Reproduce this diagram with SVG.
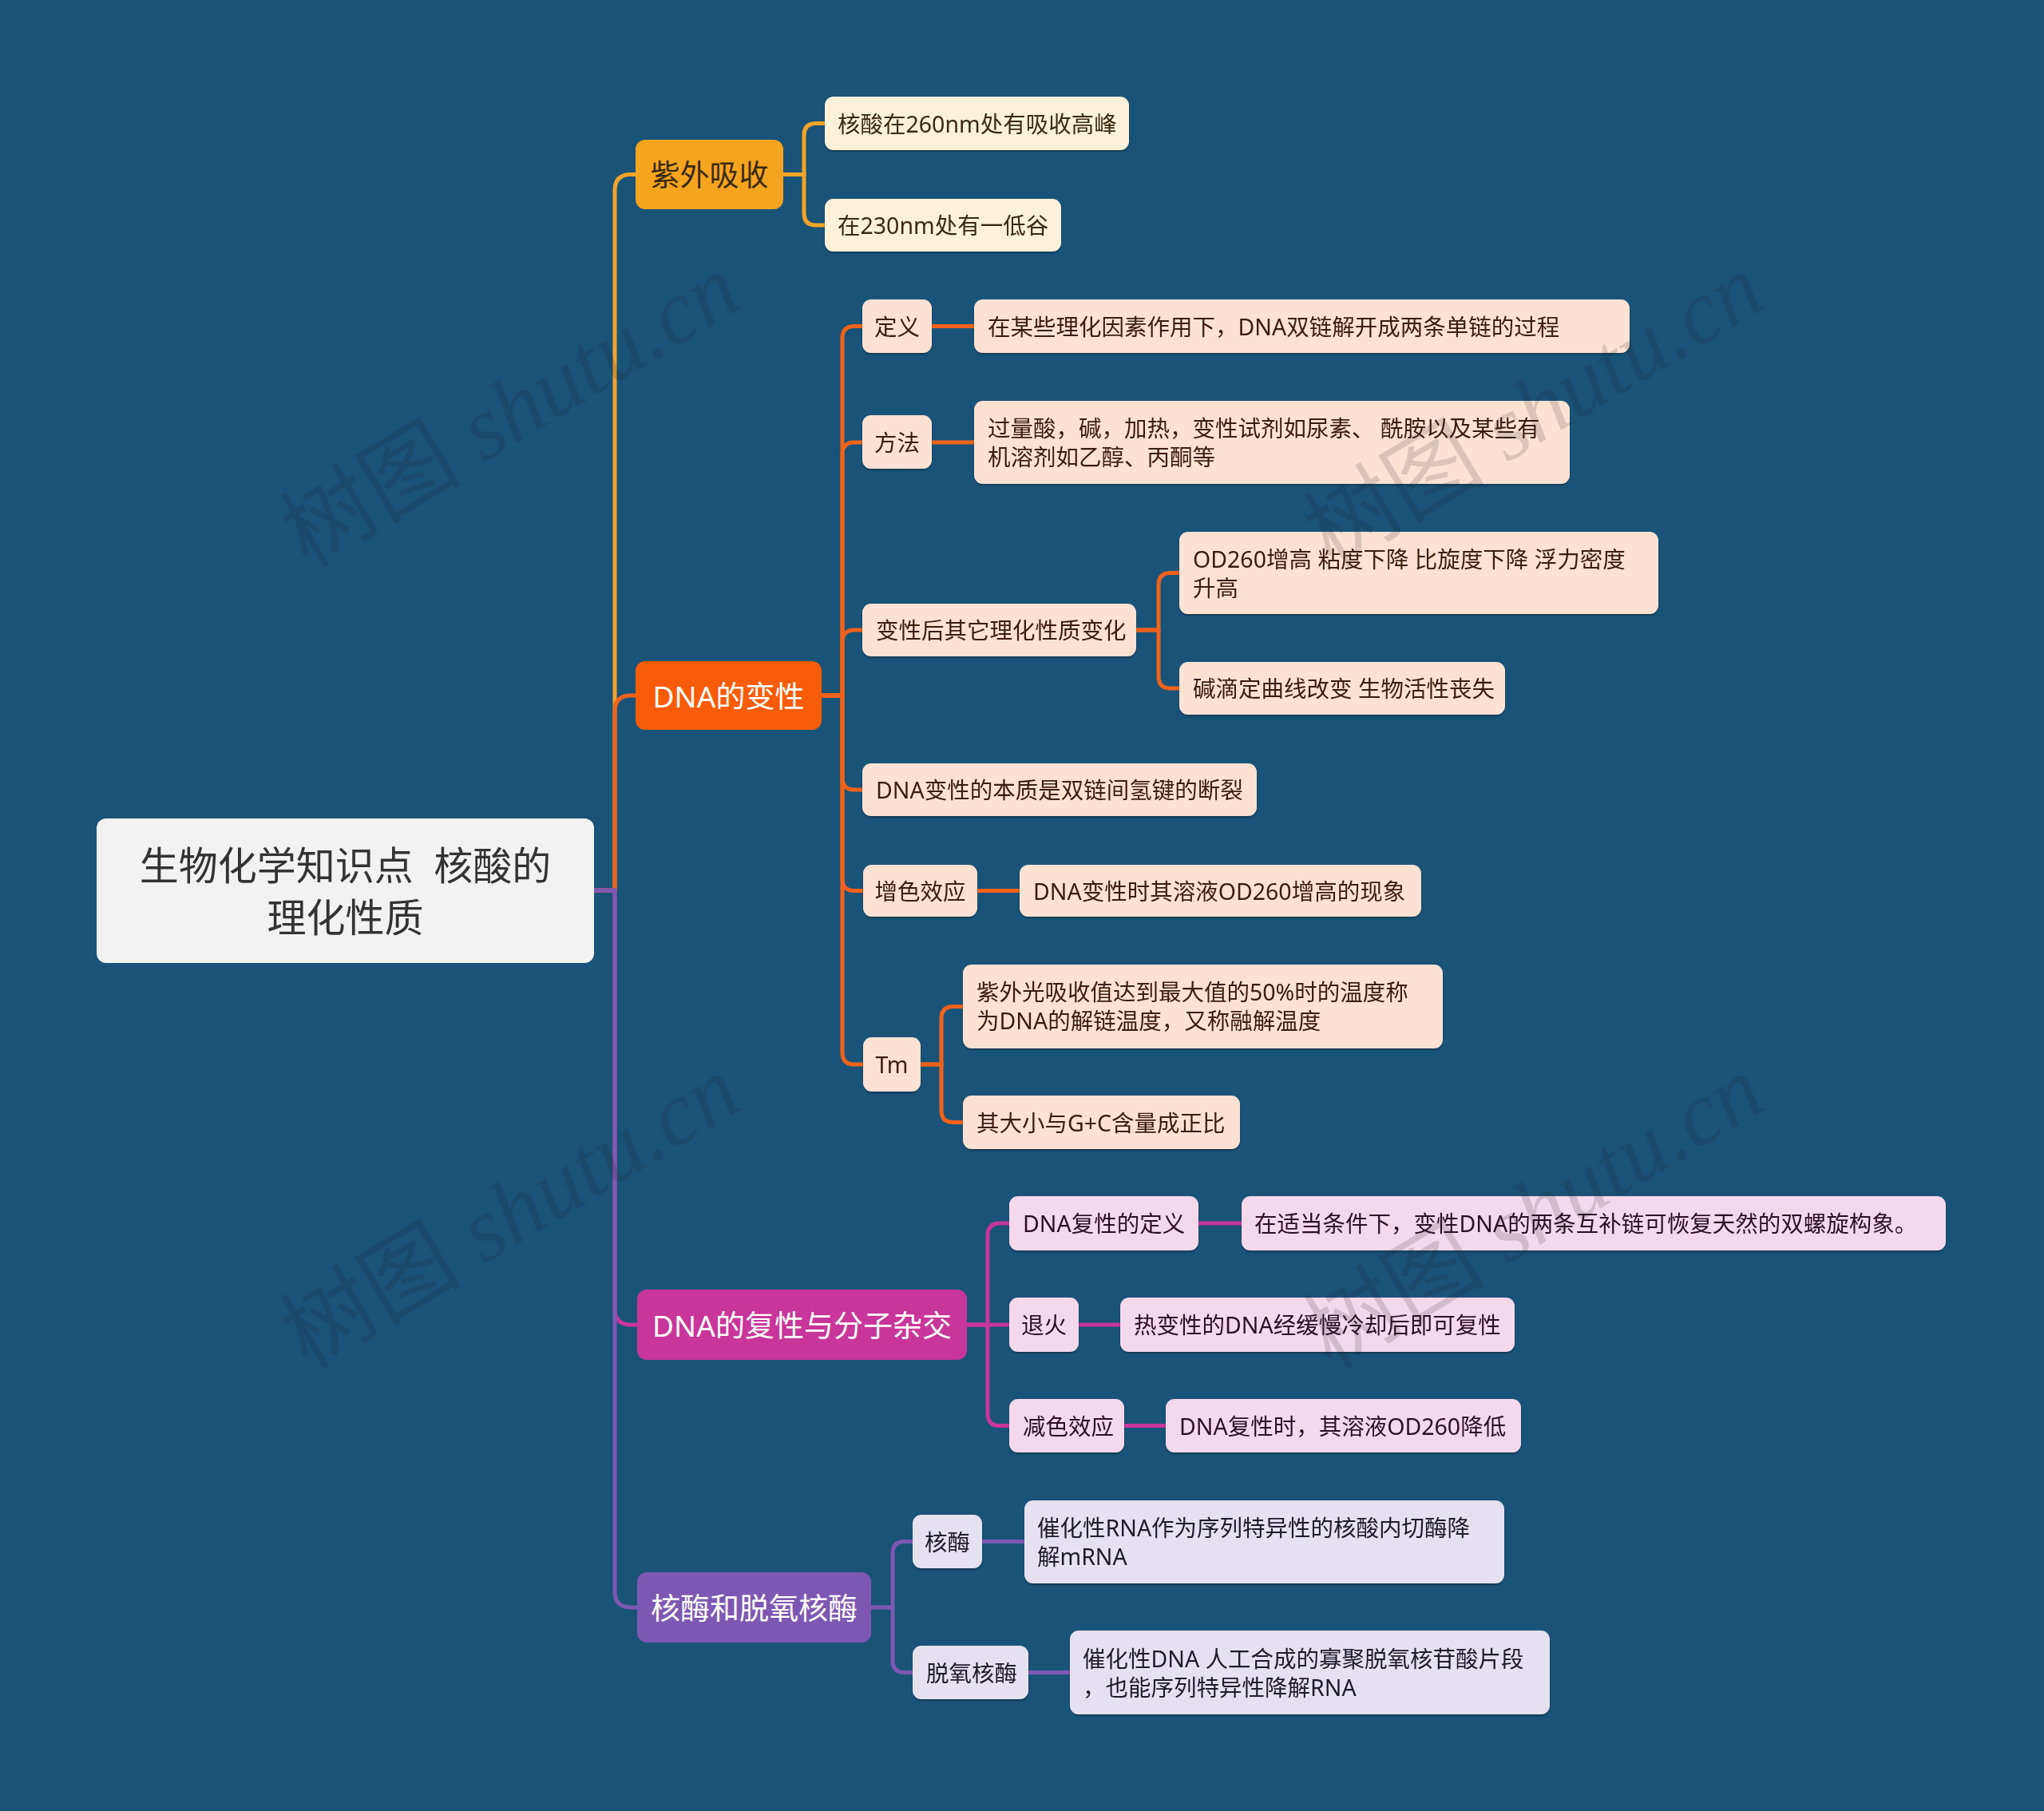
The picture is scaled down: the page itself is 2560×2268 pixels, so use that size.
<svg xmlns="http://www.w3.org/2000/svg" width="2560" height="2268" viewBox="0 0 2560 2268">
<style>
text{font-family:"Noto Sans","Noto Sans CJK SC",sans-serif}
.leaf{font-size:28.5px}
.main{font-size:37px}
.c{text-anchor:middle;dominant-baseline:central}
.l{text-anchor:start;dominant-baseline:central}
.ln{fill:none;stroke-width:5;stroke-linecap:butt}
.y{stroke:#F2A426}.o{stroke:#F0621A}.m{stroke:#C8369A}.p{stroke:#7D58B3}
.ly{fill:#FEF1DA}.lo{fill:#FDE2D3}.lm{fill:#F4D8EC}.lp{fill:#E6E1F0}
.ty{fill:#3B2A10}.to{fill:#3A1A0C}.tm{fill:#2E1027}.tp{fill:#1F1A2B}
.wm{font-family:"Liberation Serif","Noto Sans CJK SC",serif;font-size:114px;font-style:italic;fill:#1a1a1a;fill-opacity:0.15}
</style>
<defs>
<filter id="sh" x="-5%" y="-10%" width="110%" height="130%">
<feDropShadow dx="0" dy="2" stdDeviation="1" flood-color="#000" flood-opacity="0.3"/>
</filter>
</defs>
<rect width="2560" height="2268" fill="#1A5378"/>

<g id="connectors">
<path class="ln y" d="M744 1115 H770 V238.5 Q770 218.5 790 218.5 H796"/>
<path class="ln o" d="M744 1115 H770 V891 Q770 871 790 871 H796"/>
<path class="ln m" d="M744 1115 H770 V1639 Q770 1659 790 1659 H798"/>
<path class="ln p" d="M744 1115 H770 V1993 Q770 2013 790 2013 H798"/>
<path class="ln y" d="M981 218.5 H1007 V169.5 Q1007 154.5 1022 154.5 H1033"/>
<path class="ln y" d="M981 218.5 H1007 V267 Q1007 282 1022 282 H1033"/>
<path class="ln o" d="M1029 871 H1055 V423.5 Q1055 408.5 1070 408.5 H1080"/>
<path class="ln o" d="M1029 871 H1055 V569 Q1055 554 1070 554 H1080"/>
<path class="ln o" d="M1029 871 H1055 V804 Q1055 789 1070 789 H1080"/>
<path class="ln o" d="M1029 871 H1055 V974 Q1055 989 1070 989 H1080"/>
<path class="ln o" d="M1029 871 H1055 V1100.5 Q1055 1115.5 1070 1115.5 H1081"/>
<path class="ln o" d="M1029 871 H1055 V1318 Q1055 1333 1070 1333 H1081"/>
<path class="ln o" d="M1167 408.5 H1220"/>
<path class="ln o" d="M1167 554 H1220"/>
<path class="ln o" d="M1423 789 H1451 V732.5 Q1451 717.5 1466 717.5 H1477"/>
<path class="ln o" d="M1423 789 H1451 V847 Q1451 862 1466 862 H1477"/>
<path class="ln o" d="M1224 1115.5 H1277"/>
<path class="ln o" d="M1153 1333 H1179 V1275.5 Q1179 1260.5 1194 1260.5 H1206"/>
<path class="ln o" d="M1153 1333 H1179 V1390.5 Q1179 1405.5 1194 1405.5 H1206"/>
<path class="ln m" d="M1211 1659 H1237 V1547 Q1237 1532 1252 1532 H1264"/>
<path class="ln m" d="M1211 1659 H1264"/>
<path class="ln m" d="M1211 1659 H1237 V1770.5 Q1237 1785.5 1252 1785.5 H1264"/>
<path class="ln m" d="M1501 1532 H1555"/>
<path class="ln m" d="M1351 1659 H1403"/>
<path class="ln m" d="M1408 1785.5 H1460"/>
<path class="ln p" d="M1091 2013 H1118 V1945.5 Q1118 1930.5 1133 1930.5 H1143"/>
<path class="ln p" d="M1091 2013 H1118 V2079.5 Q1118 2094.5 1133 2094.5 H1143"/>
<path class="ln p" d="M1230 1930.5 H1283"/>
<path class="ln p" d="M1288 2094.5 H1340"/>
</g>

<g id="root">
<rect x="121" y="1025" width="623" height="181" rx="12" fill="#F2F2F2"/>
<text x="432.5" y="1083" class="c" font-size="49" fill="#333" style="white-space:pre">生物化学知识点  核酸的</text>
<text x="432.5" y="1148" class="c" font-size="49" fill="#333">理化性质</text>
</g>

<g id="n-ziwai">
<rect x="796" y="175" width="185" height="87" rx="12" fill="#F5A41F"/>
<text x="888.5" y="218.5" class="c main" fill="#3B2A10">紫外吸收</text>
</g>
<g id="n-ziwai-1" filter="url(#sh)">
<rect x="1033" y="121" width="381" height="67" rx="11" class="ly"/>
<text x="1049" y="154.5" class="l leaf ty">核酸在260nm处有吸收高峰</text>
</g>
<g id="n-ziwai-2" filter="url(#sh)">
<rect x="1033" y="249" width="296" height="66" rx="11" class="ly"/>
<text x="1049" y="282" class="l leaf ty">在230nm处有一低谷</text>
</g>

<g id="n-bianxing">
<rect x="796" y="828" width="233" height="86" rx="12" fill="#F95C08"/>
<text x="912.5" y="871" class="c main" fill="#FFFFFF">DNA的变性</text>
</g>
<g id="n-dingyi" filter="url(#sh)">
<rect x="1080" y="375" width="87" height="67" rx="11" class="lo"/>
<text x="1123.5" y="408.5" class="c leaf to">定义</text>
</g>
<g id="n-dingyi-1" filter="url(#sh)">
<rect x="1220" y="375" width="821" height="67" rx="11" class="lo"/>
<text x="1237" y="408.5" class="l leaf to">在某些理化因素作用下，DNA双链解开成两条单链的过程</text>
</g>
<g id="n-fangfa" filter="url(#sh)">
<rect x="1080" y="520" width="87" height="67" rx="11" class="lo"/>
<text x="1123.5" y="553.5" class="c leaf to">方法</text>
</g>
<g id="n-fangfa-1" filter="url(#sh)">
<rect x="1220" y="502" width="746" height="104" rx="11" class="lo"/>
<text x="1237" y="536" class="l leaf to" style="white-space:pre">过量酸，碱，加热，变性试剂如尿素、 酰胺以及某些有</text>
<text x="1237" y="572" class="l leaf to">机溶剂如乙醇、丙酮等</text>
</g>
<g id="n-bianhua" filter="url(#sh)">
<rect x="1080" y="756" width="343" height="66" rx="11" class="lo"/>
<text x="1097" y="789" class="l leaf to">变性后其它理化性质变化</text>
</g>
<g id="n-bianhua-1" filter="url(#sh)">
<rect x="1477" y="666" width="600" height="103" rx="11" class="lo"/>
<text x="1494" y="699.5" class="l leaf to" style="white-space:pre">OD260增高 粘度下降 比旋度下降 浮力密度</text>
<text x="1494" y="735.5" class="l leaf to">升高</text>
</g>
<g id="n-bianhua-2" filter="url(#sh)">
<rect x="1477" y="829" width="408" height="66" rx="11" class="lo"/>
<text x="1494" y="862" class="l leaf to" style="white-space:pre">碱滴定曲线改变 生物活性丧失</text>
</g>
<g id="n-benzhi" filter="url(#sh)">
<rect x="1080" y="956" width="494" height="66" rx="11" class="lo"/>
<text x="1097" y="989" class="l leaf to">DNA变性的本质是双链间氢键的断裂</text>
</g>
<g id="n-zengse" filter="url(#sh)">
<rect x="1081" y="1083" width="143" height="65" rx="11" class="lo"/>
<text x="1152.5" y="1115.5" class="c leaf to">增色效应</text>
</g>
<g id="n-zengse-1" filter="url(#sh)">
<rect x="1277" y="1083" width="503" height="65" rx="11" class="lo"/>
<text x="1294" y="1115.5" class="l leaf to">DNA变性时其溶液OD260增高的现象</text>
</g>
<g id="n-tm" filter="url(#sh)">
<rect x="1081" y="1299" width="72" height="68" rx="11" class="lo"/>
<text x="1117" y="1333" class="c leaf to">Tm</text>
</g>
<g id="n-tm-1" filter="url(#sh)">
<rect x="1206" y="1208" width="601" height="105" rx="11" class="lo"/>
<text x="1223" y="1242" class="l leaf to">紫外光吸收值达到最大值的50%时的温度称</text>
<text x="1223" y="1278" class="l leaf to">为DNA的解链温度，又称融解温度</text>
</g>
<g id="n-tm-2" filter="url(#sh)">
<rect x="1206" y="1372" width="347" height="67" rx="11" class="lo"/>
<text x="1223" y="1405.5" class="l leaf to">其大小与G+C含量成正比</text>
</g>

<g id="n-fuxing">
<rect x="798" y="1615" width="413" height="88" rx="12" fill="#C8369A"/>
<text x="1004.5" y="1659" class="c main" fill="#FFFFFF">DNA的复性与分子杂交</text>
</g>
<g id="n-fxdy" filter="url(#sh)">
<rect x="1264" y="1498" width="237" height="68" rx="11" class="lm"/>
<text x="1281" y="1532" class="l leaf tm">DNA复性的定义</text>
</g>
<g id="n-fxdy-1" filter="url(#sh)">
<rect x="1555" y="1498" width="882" height="68" rx="11" class="lm"/>
<text x="1571" y="1532" class="l leaf tm">在适当条件下，变性DNA的两条互补链可恢复天然的双螺旋构象。</text>
</g>
<g id="n-tuihuo" filter="url(#sh)">
<rect x="1264" y="1625" width="87" height="68" rx="11" class="lm"/>
<text x="1307.5" y="1659" class="c leaf tm">退火</text>
</g>
<g id="n-tuihuo-1" filter="url(#sh)">
<rect x="1403" y="1625" width="494" height="68" rx="11" class="lm"/>
<text x="1420" y="1659" class="l leaf tm">热变性的DNA经缓慢冷却后即可复性</text>
</g>
<g id="n-jianse" filter="url(#sh)">
<rect x="1264" y="1752" width="144" height="67" rx="11" class="lm"/>
<text x="1281" y="1785.5" class="l leaf tm">减色效应</text>
</g>
<g id="n-jianse-1" filter="url(#sh)">
<rect x="1460" y="1752" width="445" height="67" rx="11" class="lm"/>
<text x="1477" y="1785.5" class="l leaf tm">DNA复性时，其溶液OD260降低</text>
</g>

<g id="n-hemei">
<rect x="798" y="1969" width="293" height="88" rx="12" fill="#7D58B3"/>
<text x="944.5" y="2013" class="c main" fill="#FFFFFF">核酶和脱氧核酶</text>
</g>
<g id="n-hm" filter="url(#sh)">
<rect x="1143" y="1897" width="87" height="67" rx="11" class="lp"/>
<text x="1186.5" y="1930.5" class="c leaf tp">核酶</text>
</g>
<g id="n-hm-1" filter="url(#sh)">
<rect x="1283" y="1879" width="601" height="104" rx="11" class="lp"/>
<text x="1299" y="1913" class="l leaf tp">催化性RNA作为序列特异性的核酸内切酶降</text>
<text x="1299" y="1949" class="l leaf tp">解mRNA</text>
</g>
<g id="n-tyhm" filter="url(#sh)">
<rect x="1143" y="2061" width="145" height="67" rx="11" class="lp"/>
<text x="1160" y="2094.5" class="l leaf tp">脱氧核酶</text>
</g>
<g id="n-tyhm-1" filter="url(#sh)">
<rect x="1340" y="2042" width="601" height="105" rx="11" class="lp"/>
<text x="1356" y="2076.5" class="l leaf tp" style="white-space:pre">催化性DNA 人工合成的寡聚脱氧核苷酸片段</text>
<text x="1356" y="2112.5" class="l leaf tp">，也能序列特异性降解RNA</text>
</g>

<g id="watermark">
<text x="385" y="712" transform="rotate(-31 385 712)" class="wm"><tspan font-style="normal">树图</tspan> shutu.cn</text>
<text x="1667" y="712" transform="rotate(-31 1667 712)" class="wm"><tspan font-style="normal">树图</tspan> shutu.cn</text>
<text x="385" y="1716" transform="rotate(-31 385 1716)" class="wm"><tspan font-style="normal">树图</tspan> shutu.cn</text>
<text x="1667" y="1716" transform="rotate(-31 1667 1716)" class="wm"><tspan font-style="normal">树图</tspan> shutu.cn</text>
</g>
</svg>
